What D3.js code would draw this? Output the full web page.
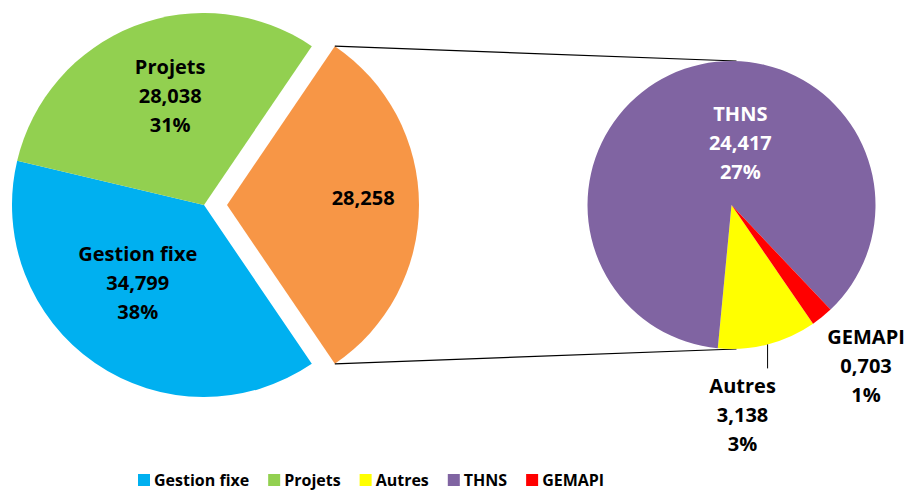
<!DOCTYPE html>
<html>
<head>
<meta charset="utf-8">
<script src="https://cdn.jsdelivr.net/npm/d3@7"></script>
<style>
  body { margin: 0; background: #fff; }
  text { font-family: "Open Sans", sans-serif; font-weight: bold; }
</style>
</head>
<body>
<svg id="chart" width="906" height="491"></svg>
<script>
// données
const mainCategories = ["Gestion fixe", "Projets"];
const mainValues = [34.799, 28.038];
const detailCategories = ["Autres", "THNS", "GEMAPI"];
const detailValues = [3.138, 24.417, 0.703];
const legendOrder = ["Gestion fixe", "Projets", "Autres", "THNS", "GEMAPI"];

const colors = {
  "Gestion fixe": "#00B0F0",
  "Projets": "#92D050",
  "Autre": "#F79646",
  "Autres": "#FFFF00",
  "THNS": "#8064A2",
  "GEMAPI": "#FF0000"
};

const svg = d3.select("#chart");
const deg = Math.PI / 180;
const fr = d3.formatLocale({ decimal: ",", thousands: " ", grouping: [3], currency: ["", "€"] });
const fmtVal = fr.format(".3f");
const fmtPct = d3.format(".0%");

const detailTotal = d3.sum(detailValues);
const mainData = mainCategories.map((c, i) => ({ name: c, value: mainValues[i] }))
  .concat([{ name: "Autre", value: detailTotal }]);
const total = d3.sum(mainData, d => d.value);

// camembert principal
const L = { cx: 204, cy: 205, r: 192, explode: 23 };
const fOther = detailTotal / total;
const startMain = Math.PI / 2 + fOther * Math.PI;
const mainPie = d3.pie().sort(null).value(d => d.value)
  .startAngle(startMain).endAngle(startMain + 2 * Math.PI);
const mainArcs = mainPie(mainData);
const arcMain = d3.arc().innerRadius(0).outerRadius(L.r);

const gMain = svg.append("g").attr("transform", `translate(${L.cx},${L.cy})`);
gMain.selectAll("path").data(mainArcs).enter().append("path")
  .attr("d", arcMain)
  .attr("fill", d => colors[d.data.name])
  .attr("transform", d => {
    if (d.data.name !== "Autre") return null;
    const m = (d.startAngle + d.endAngle) / 2;
    return `translate(${L.explode * Math.sin(m)},${-L.explode * Math.cos(m)})`;
  });

// étiquettes du camembert principal (position polaire : k * r, décalage d'angle)
const mainLabelPos = { "Gestion fixe": [0.53, 6], "Projets": [0.595, 4], "Autre": [0.71, -3] };
mainArcs.forEach(d => {
  const [k, da] = mainLabelPos[d.data.name];
  const a = (d.startAngle + d.endAngle) / 2 + da * deg;
  let x = k * L.r * Math.sin(a), y = -k * L.r * Math.cos(a);
  if (d.data.name === "Autre") {
    const m = (d.startAngle + d.endAngle) / 2;
    x += L.explode * Math.sin(m); y -= L.explode * Math.cos(m);
  }
  const lines = d.data.name === "Autre" ? [fmtVal(d.data.value)]
    : [d.data.name, fmtVal(d.data.value), fmtPct(d.data.value / total)];
  const t = gMain.append("text").attr("text-anchor", "middle").attr("font-size", 20).attr("fill", "#000");
  lines.forEach((s, i) => {
    t.append("tspan").attr("x", x).attr("y", y + (i - (lines.length - 1) / 2) * 29)
      .attr("dominant-baseline", "central").text(s);
  });
});

// camembert secondaire
const R = { cx: 731.5, cy: 205, r: 144 };
const startDetail = 145.5 * deg;
const detailData = detailCategories.map((c, i) => ({ name: c, value: detailValues[i] }));
const detailPie = d3.pie().sort(null).value(d => d.value)
  .startAngle(startDetail).endAngle(startDetail + 2 * Math.PI);
const detailArcs = detailPie(detailData);
const arcDetail = d3.arc().innerRadius(0).outerRadius(R.r);

// lignes de liaison
const other = mainArcs.find(d => d.data.name === "Autre");
const om = (other.startAngle + other.endAngle) / 2;
const ox = L.cx + L.explode * Math.sin(om), oy = L.cy - L.explode * Math.cos(om);
const corner = a => [ox + L.r * Math.sin(a), oy - L.r * Math.cos(a)];
const [tx, ty] = corner(other.startAngle);
const [bx, by] = corner(other.endAngle);
svg.append("line").attr("x1", tx).attr("y1", ty).attr("x2", R.cx + 5).attr("y2", R.cy - R.r)
  .attr("stroke", "#000").attr("stroke-width", 1.2);
svg.append("line").attr("x1", bx).attr("y1", by).attr("x2", R.cx + 5).attr("y2", R.cy + R.r)
  .attr("stroke", "#000").attr("stroke-width", 1.2);

const gDet = svg.append("g").attr("transform", `translate(${R.cx},${R.cy})`);
gDet.selectAll("path").data(detailArcs).enter().append("path")
  .attr("d", arcDetail)
  .attr("fill", d => colors[d.data.name]);

// étiquettes du camembert secondaire
detailArcs.forEach(d => {
  const m = (d.startAngle + d.endAngle) / 2;
  const lines = [d.data.name, fmtVal(d.data.value), fmtPct(d.data.value / total)];
  let x, y, fill = "#000";
  if (d.data.name === "THNS") {
    const a = m + 27 * deg;
    x = 0.44 * R.r * Math.sin(a); y = -0.44 * R.r * Math.cos(a);
    fill = "#fff";
  } else {
    const px = R.r * Math.sin(m), py = -R.r * Math.cos(m);
    if (d.data.name === "Autres") {
      gDet.append("line").attr("x1", px).attr("y1", py).attr("x2", px).attr("y2", py + 24)
        .attr("stroke", "#000").attr("stroke-width", 1);
      x = px - 25; y = py + 70;
    } else {
      x = px + 44; y = py + 49;
    }
  }
  const t = gDet.append("text").attr("text-anchor", "middle").attr("font-size", 20).attr("fill", fill);
  lines.forEach((s, i) => {
    t.append("tspan").attr("x", x).attr("y", y + (i - 1) * 29)
      .attr("dominant-baseline", "central").text(s);
  });
});

// légende
const legend = svg.append("g").attr("transform", "translate(138,480)");
let lx = 0;
legendOrder.forEach(name => {
  legend.append("rect").attr("x", lx).attr("y", -6).attr("width", 12).attr("height", 12)
    .attr("fill", colors[name]);
  const t = legend.append("text").attr("x", lx + 16).attr("y", 0)
    .attr("dominant-baseline", "central").attr("font-size", 16).attr("fill", "#000").text(name);
  lx += 16 + t.node().getComputedTextLength() + 19;
});
</script>
</body>
</html>
